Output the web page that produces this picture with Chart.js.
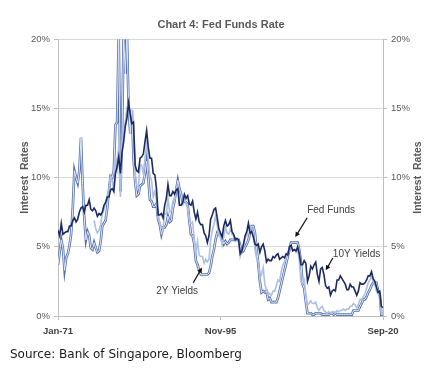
<!DOCTYPE html>
<html>
<head>
<meta charset="utf-8">
<script src="https://cdn.jsdelivr.net/npm/chart.js@4.4.1/dist/chart.umd.min.js"></script>
<style>
html,body{margin:0;padding:0;background:#fff;}
</style>
</head>
<body>
<canvas id="graficaFed" width="442" height="377"></canvas>
<script>
// quarterly readings, Jan/Apr/Jul/Oct, Jan-71 .. Jul-20
var fedFunds=[
	3.7,4.6,5.5,4.9, 3.3,4.2,4.5,5.1, 5.9,7.8,10.5,10.0, 9.6,10.5,12.9,9.5, 7.1,5.5,6.1,5.8,
	4.9,4.8,5.3,4.9, 4.6,4.7,5.4,6.5, 6.7,6.9,7.8,9.0, 10.1,10.0,10.5,13.8, 14.0,20.5,9.0,12.8,
	20.5,17.5,20.5,15.1, 13.2,14.9,11.4,9.7, 8.7,8.8,9.4,9.5, 9.6,10.3,11.2,10.0, 8.4,8.3,7.9,7.9,
	8.1,7.0,6.6,5.9, 6.4,6.4,6.6,7.2, 6.8,6.9,7.8,8.3, 9.1,9.8,9.2,8.8, 8.2,8.3,8.2,8.1,
	6.9,5.9,5.8,5.2, 4.0,3.7,3.3,3.0, 3.0,3.0,3.0,3.0, 3.1,3.6,4.3,4.8, 5.5,6.0,5.9,5.8,
	5.6,5.2,5.4,5.2, 5.3,5.5,5.5,5.5, 5.6,5.5,5.5,5.1, 4.6,4.7,5.0,5.2, 5.5,6.0,6.5,6.5,
	6.0,4.8,3.8,2.5, 1.7,1.8,1.7,1.8, 1.2,1.3,1.0,1.0, 1.0,1.0,1.3,1.8, 2.3,2.8,3.3,3.8,
	4.3,4.8,5.3,5.3, 5.3,5.3,5.3,4.8, 3.9,2.3,2.0,1.0, 0.2,0.2,0.2,0.1, 0.1,0.2,0.2,0.2,
	0.2,0.1,0.1,0.1, 0.1,0.1,0.2,0.2, 0.1,0.2,0.1,0.1, 0.1,0.1,0.1,0.1, 0.1,0.1,0.1,0.1,
	0.4,0.4,0.4,0.4, 0.7,0.9,1.2,1.2, 1.4,1.7,1.9,2.2, 2.4,2.4,2.4,1.8, 1.6,0.1,0.1
];
var dosAnios=[
	null,null,null,null, null,null,null,null, null,null,null,null, null,null,null,null, null,null,null,null,
	null,null,6.9,6.3, 6.0,6.2,6.6,7.4, 7.7,8.1,8.7,9.0, 10.1,9.8,9.1,11.6, 10.7,12.4,8.6,12.0,
	13.6,14.0,15.1,15.3, 14.6,14.1,13.9,10.4, 9.4,9.3,10.9,10.9, 10.3,11.4,12.5,11.3, 10.1,9.8,8.6,9.0,
	8.3,7.1,6.8,6.4, 6.3,7.4,7.4,8.5, 7.5,7.6,8.3,8.4, 9.2,9.4,8.0,8.0, 8.0,8.6,8.1,7.8,
	7.0,6.7,6.8,5.6, 4.6,5.4,4.4,4.3, 4.3,3.8,4.1,3.9, 4.1,5.5,6.2,6.6, 7.2,6.6,5.8,5.7,
	5.1,5.8,6.4,6.0, 5.9,6.3,5.9,5.8, 5.4,5.6,5.5,4.3, 4.7,5.0,5.7,5.8, 6.4,6.4,6.4,6.0,
	4.8,4.2,4.0,2.7, 3.0,3.5,2.3,1.9, 1.7,1.6,1.5,1.8, 1.8,2.2,2.6,2.5, 3.2,3.7,3.9,4.2,
	4.4,4.9,5.0,4.8, 4.8,4.6,4.8,4.0, 2.5,2.3,2.6,1.6, 0.8,0.9,1.1,0.9, 0.9,1.0,0.6,0.4,
	0.6,0.7,0.4,0.3, 0.2,0.3,0.2,0.3, 0.3,0.2,0.4,0.3, 0.4,0.4,0.5,0.4, 0.5,0.5,0.7,0.7,
	0.9,0.8,0.6,0.8, 1.2,1.2,1.4,1.6, 2.0,2.4,2.6,2.9, 2.5,2.3,1.8,1.6, 1.5,0.2,0.15
];
var diezAnios=[
	6.2,5.8,6.7,5.9, 6.0,6.1,6.1,6.5, 6.5,6.9,7.1,6.8, 7.0,7.5,7.8,7.9, 7.5,8.0,8.0,8.4,
	7.7,7.6,7.8,7.6, 7.2,7.4,7.3,7.5, 8.0,8.2,8.6,8.6, 9.1,9.2,9.0,10.3, 10.8,11.5,10.3,11.8,
	12.6,13.7,14.3,15.4, 14.6,13.9,14.0,10.9, 10.5,10.4,11.4,11.5, 11.7,12.6,13.4,12.2, 11.4,11.4,10.3,10.2,
	9.2,7.3,7.3,7.4, 7.1,8.0,8.5,9.5, 8.7,8.7,9.0,8.8, 9.1,9.2,8.0,8.0, 8.2,8.8,8.5,8.7,
	8.1,8.0,8.3,7.5, 7.0,7.5,6.8,6.6, 6.6,6.0,5.8,5.3, 5.8,7.0,7.3,7.7, 7.8,7.1,6.3,6.0,
	5.7,6.5,6.9,6.5, 6.6,6.9,6.1,5.9, 5.5,5.6,5.5,4.5, 4.7,5.2,5.8,6.1, 6.7,6.0,6.1,5.7,
	5.2,5.1,5.2,4.6, 5.0,5.2,4.7,3.9, 4.1,4.0,4.0,4.3, 4.2,4.4,4.5,4.1, 4.2,4.3,4.2,4.5,
	4.4,5.0,5.1,4.7, 4.8,4.7,5.0,4.5, 3.7,3.7,4.0,3.8, 2.5,2.9,3.6,3.4, 3.7,3.9,3.0,2.5,
	3.4,3.5,3.0,2.2, 2.0,2.1,1.5,1.8, 1.9,1.8,2.6,2.6, 2.9,2.7,2.5,2.3, 1.9,1.9,2.3,2.1,
	2.1,1.8,1.5,1.8, 2.4,2.3,2.3,2.4, 2.6,2.9,2.9,3.2, 2.7,2.5,2.1,1.7, 1.8,0.7,0.6
];
var mesesTicks=[0,298,596];
var etiquetasTicks=['Jan-71','Nov-95','Sep-20'];
var totalMeses=596;

var notas=[
	{texto:'Fed Funds',pos:[457,7.65],desde:[457,7.1],hasta:[435,5.7]},
	{texto:'10Y Yields',pos:[504,4.48],desde:[504,4.19],hasta:[491,3.3]},
	{texto:'2Y Yields',pos:[180,1.8],desde:[248,2.4],hasta:[264,3.5]}
];

function serie(valores){
	var puntos=new Array();
	for(var i=0;i<valores.length;i++){
		puntos.push({x:i*totalMeses/(valores.length-1),y:valores[i]});
	}
	return puntos;
}

var GRIS='#595959';

var decoracion={
	id:'decoracion',
	afterDatasetsDraw:function(chart){
		var ctx=chart.ctx, sx=chart.scales.x, sy=chart.scales.y, area=chart.chartArea;
		ctx.save();
		ctx.font='10px "Liberation Sans"';
		ctx.fillStyle='#404040';
		ctx.textBaseline='middle';
		ctx.textAlign='left';
		notas.forEach(function(n){
			ctx.fillText(n.texto,sx.getPixelForValue(n.pos[0]),sy.getPixelForValue(n.pos[1]));
			var x1=sx.getPixelForValue(n.desde[0]), y1=sy.getPixelForValue(n.desde[1]);
			var x2=sx.getPixelForValue(n.hasta[0]), y2=sy.getPixelForValue(n.hasta[1]);
			var ang=Math.atan2(y2-y1,x2-x1);
			ctx.strokeStyle='#111';
			ctx.lineWidth=1.2;
			ctx.beginPath();
			ctx.moveTo(x1,y1);
			ctx.lineTo(x2-3*Math.cos(ang),y2-3*Math.sin(ang));
			ctx.stroke();
			ctx.fillStyle='#111';
			ctx.beginPath();
			ctx.moveTo(x2,y2);
			ctx.lineTo(x2-5*Math.cos(ang)+2.5*Math.sin(ang),y2-5*Math.sin(ang)-2.5*Math.cos(ang));
			ctx.lineTo(x2-5*Math.cos(ang)-2.5*Math.sin(ang),y2-5*Math.sin(ang)+2.5*Math.cos(ang));
			ctx.closePath();
			ctx.fill();
			ctx.fillStyle='#404040';
		});
		// titulos de ejes, ambos leidos de abajo hacia arriba
		var medio=(area.top+area.bottom)/2;
		ctx.font='bold 10.5px "Liberation Sans"';
		ctx.fillStyle=GRIS;
		ctx.textAlign='center';
		[25,418].forEach(function(px){
			ctx.save();
			ctx.translate(px,medio);
			ctx.rotate(-Math.PI/2);
			ctx.fillText('Interest  Rates',0,0);
			ctx.restore();
		});
		ctx.font='12px "DejaVu Sans"';
		ctx.fillStyle='#1a1a1a';
		ctx.textAlign='left';
		ctx.fillText('Source: Bank of Singapore, Bloomberg',10,355);
		ctx.restore();
	}
};

var ejeY={
	min:0,max:20,
	ticks:{stepSize:5,padding:4,color:GRIS,font:{family:'Liberation Sans',size:9.5},callback:function(v){return v+'%';}},
	border:{color:'#bfbfbf'}
};

new Chart(document.getElementById('graficaFed').getContext('2d'),{
	type:'line',
	data:{
		datasets:[
			{label:'10Y Yields',data:serie(diezAnios),borderColor:'#1c2a60',borderWidth:1.6},
			{label:'2Y Yields',data:serie(dosAnios),borderColor:'#aebfe2',borderWidth:1.6},
			{label:'Fed Funds',data:serie(fedFunds),borderColor:'#e3e9f5',borderWidth:1},
			{label:'Fed Funds borde',data:serie(fedFunds),borderColor:'#5571ad',borderWidth:2.6}
		]
	},
	options:{
		responsive:false,
		animation:false,
		devicePixelRatio:1,
		layout:{padding:{top:1,left:0,right:0,bottom:0}},
		elements:{point:{radius:0},line:{tension:0,borderJoinStyle:'miter'}},
		plugins:{
			legend:{display:false},
			tooltip:{enabled:false},
			title:{display:true,text:'Chart 4: Fed Funds Rate',color:GRIS,font:{family:'Liberation Sans',size:11,weight:'bold'},padding:{top:17,bottom:8}}
		},
		scales:{
			x:{
				type:'linear',min:0,max:totalMeses,
				afterBuildTicks:function(s){s.ticks=mesesTicks.map(function(v){return {value:v};});},
				afterFit:function(s){s.height=61;},
				ticks:{padding:6,color:'#404040',maxRotation:0,font:{family:'Liberation Sans',size:9.5,weight:'bold'},
					callback:function(v){return etiquetasTicks[mesesTicks.indexOf(v)];}},
				grid:{drawOnChartArea:false,tickLength:4,color:'#bfbfbf'},
				border:{color:'#bfbfbf'}
			},
			y:Object.assign({},ejeY,{
				position:'left',
				afterFit:function(s){s.width=58;},
				grid:{color:'#d9d9d9',tickLength:4,tickColor:'#bfbfbf'}
			}),
			y2:Object.assign({},ejeY,{
				position:'right',
				afterFit:function(s){s.width=59;},
				grid:{drawOnChartArea:false,tickLength:4,color:'#bfbfbf'}
			})
		}
	},
	plugins:[decoracion]
});
</script>
</body>
</html>
